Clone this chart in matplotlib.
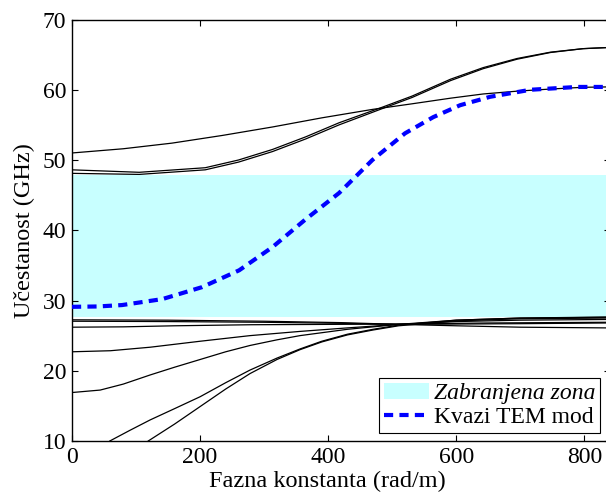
import matplotlib.pyplot as plt
from matplotlib.patches import Patch
from matplotlib.lines import Line2D

plt.rcParams['font.family'] = ['Liberation Serif', 'DejaVu Serif']
plt.rcParams['font.size'] = 17

# forbidden band (GHz)
band_low = 27.7
band_high = 47.9

# quasi TEM mode
tem_b = [0, 40, 78, 141, 203, 261, 313, 364, 417, 469, 520, 564, 606, 653, 716, 789, 834]
tem_f = [29.1, 29.15, 29.35, 30.2, 31.9, 34.3, 37.6, 41.5, 45.3, 50.0, 53.8, 56.1, 57.8, 59.0, 60.0, 60.4, 60.4]

# upper modes
upA_b = [0, 80, 156, 235, 313, 390, 469, 531, 591, 642, 695, 747, 798, 834]
upA_f = [51.0, 51.6, 52.4, 53.5, 54.7, 56.0, 57.2, 58.0, 58.8, 59.4, 59.8, 60.1, 60.35, 60.4]
upB_b = [0, 105, 208, 260, 313, 365, 417, 484, 531, 591, 642, 695, 747, 798, 834]
upB_f = [48.6, 48.25, 48.9, 50.0, 51.5, 53.3, 55.3, 57.5, 59.1, 61.5, 63.15, 64.45, 65.35, 65.85, 66.0]
upC_f = [48.1, 47.95, 48.6, 49.7, 51.2, 53.0, 55.0, 57.3, 58.9, 61.3, 63.0, 64.35, 65.3, 65.85, 66.0]

# lower modes
low1_b = [0, 150, 300, 420, 510, 600, 700, 834]
low1_f = [27.25, 27.2, 27.05, 26.85, 26.6, 26.4, 26.2, 26.1]
low2_f = [27.05, 27.0, 26.9, 26.75, 26.6, 26.65, 26.7, 26.8]
low3_b = [0, 80, 160, 280, 400, 510, 650, 834]
low3_f = [26.2, 26.25, 26.4, 26.55, 26.6, 26.65, 26.8, 26.9]
low4_b = [0, 60, 122, 200, 278, 356, 430, 510, 600, 700, 834]
low4_f = [22.7, 22.85, 23.35, 24.2, 25.0, 25.6, 26.1, 26.6, 27.0, 27.2, 27.3]
low5_b = [0, 44, 80, 122, 160, 200, 240, 278, 320, 356, 430, 510, 600, 700, 834]
low5_f = [16.9, 17.25, 18.1, 19.4, 20.5, 21.6, 22.7, 23.6, 24.4, 25.0, 25.9, 26.6, 27.2, 27.5, 27.6]
low6_b = [59, 90, 122, 160, 200, 240, 278, 320, 356, 390, 430, 470, 510, 600, 700, 834]
low6_f = [10.0, 11.5, 13.0, 14.6, 16.3, 18.3, 20.1, 21.8, 23.1, 24.2, 25.2, 25.9, 26.5, 27.2, 27.5, 27.65]
low7_b = [119, 160, 200, 240, 278, 320, 356, 390, 430, 470, 510, 600, 700, 834]
low7_f = [10.0, 12.4, 14.9, 17.4, 19.6, 21.6, 23.0, 24.1, 25.1, 25.8, 26.4, 27.1, 27.4, 27.5]

band_color = '#c8ffff'

fig = plt.figure(figsize=(6.06, 4.97), dpi=100)
ax = fig.add_axes([72 / 606, 56 / 497, 538 / 606, 421.5 / 497])

ax.axhspan(band_low, band_high, color=band_color, lw=0, zorder=0)

black_curves = [
    (upA_b, upA_f), (upB_b, upB_f), (upB_b, upC_f),
    (low1_b, low1_f), (low1_b, low2_f), (low3_b, low3_f),
    (low4_b, low4_f), (low5_b, low5_f), (low6_b, low6_f), (low7_b, low7_f),
]
for b, f in black_curves:
    ax.plot(b, f, color='black', lw=0.9)

ax.plot(tem_b, tem_f, color='blue', lw=3.0, linestyle=(0, (2.2, 1.5)), zorder=5)

ax.set_xlim(0, 840)
ax.set_ylim(10, 70)
ax.set_xticks([0, 200, 400, 600, 800])
ax.set_yticks([10, 20, 30, 40, 50, 60, 70])
ax.tick_params(direction='in', top=True, right=True, length=4, width=0.8, pad=4, labelsize=17)
for s in ax.spines.values():
    s.set_linewidth(1.0)

ax.set_xlabel('Fazna konstanta (rad/m)', fontsize=17.5)
ax.xaxis.set_label_coords(0.474, -0.07)
ax.set_ylabel('Učestanost (GHz)', fontsize=17.5)
ax.yaxis.set_label_coords(-0.068, 0.5)

handles = [Patch(facecolor=band_color, edgecolor='none'),
           Line2D([], [], color='blue', lw=3.0, linestyle=(0, (2.2, 1.5)))]
leg = ax.legend(handles, ['Zabranjena zona', 'Kvazi TEM mod'], loc='lower right',
                bbox_to_anchor=(600 / 606, 64 / 497), bbox_transform=fig.transFigure,
                borderaxespad=0, fancybox=False, framealpha=1, edgecolor='black',
                fontsize=17, handlelength=1.9, handletextpad=0.2, borderpad=0.2,
                labelspacing=0.1)
leg.get_frame().set_linewidth(0.8)
leg.get_texts()[0].set_style('italic')

fig.savefig('out.png', dpi=100)
